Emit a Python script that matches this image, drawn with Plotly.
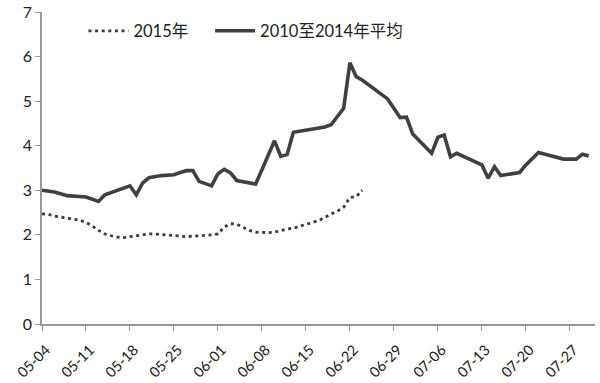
import plotly.graph_objects as go
from datetime import date, timedelta

start = date(2015, 5, 4)

# 2015 series: day offsets from 05-04 and values
days_2015 = list(range(0, 52))
vals_2015 = [2.47, 2.46, 2.42, 2.40, 2.38, 2.36, 2.33, 2.28, 2.20, 2.10,
             2.02, 1.98, 1.95, 1.94, 1.96, 1.98, 2.00, 2.02, 2.02, 2.01,
             2.00, 1.99, 1.97, 1.96, 1.97, 1.98, 1.98, 2.00, 2.02, 2.18,
             2.25, 2.24, 2.17, 2.10, 2.06, 2.05, 2.05, 2.06, 2.10, 2.13,
             2.15, 2.19, 2.24, 2.28, 2.32, 2.39, 2.47, 2.53, 2.62, 2.84,
             2.86, 3.00]

# 2010-2014 average
days_avg = [0, 2, 4, 7, 9, 10, 14, 15, 16, 17, 19, 21, 22, 23, 24, 25, 27, 28, 29, 30,
            31, 34, 35, 37, 38, 39, 40, 45, 46, 48, 49, 50, 51, 55, 57, 58, 59, 62,
            63, 64, 65, 66, 70, 71, 72, 73, 76, 77, 79, 83, 85, 86, 87]
vals_avg = [3.00, 2.96, 2.88, 2.85, 2.75, 2.90, 3.10, 2.90, 3.16, 3.28, 3.33, 3.35,
            3.40, 3.44, 3.44, 3.20, 3.10, 3.37, 3.47, 3.39, 3.22, 3.14, 3.46, 4.11,
            3.76, 3.80, 4.30, 4.42, 4.47, 4.84, 5.86, 5.55, 5.47, 5.05, 4.63, 4.64,
            4.26, 3.83, 4.19, 4.24, 3.75, 3.83, 3.57, 3.27, 3.53, 3.33, 3.40, 3.57,
            3.85, 3.70, 3.70, 3.81, 3.77]

names = ["2015年", "2010至2014年平均"]

def to_dates(ds):
    return [(start + timedelta(days=d)).isoformat() for d in ds]

fig = go.Figure()
fig.add_trace(go.Scatter(x=to_dates(days_2015), y=vals_2015, mode="lines", name=names[0],
                         line=dict(color="#3a3a3a", width=2.8, dash="3px,3.6px"),
                         legend="legend"))
fig.add_trace(go.Scatter(x=to_dates(days_avg), y=vals_avg, mode="lines", name=names[1],
                         line=dict(color="#404040", width=3.6), legend="legend2"))

leg_common = dict(orientation="h", yanchor="top", xanchor="left", y=0.995,
                  bgcolor="rgba(0,0,0,0)", font=dict(size=16.5), itemwidth=40)

fig.update_layout(
    width=600, height=383,
    margin=dict(l=42, r=5, t=12, b=59, autoexpand=False),
    plot_bgcolor="white", paper_bgcolor="white",
    font=dict(family="Lato, 'Noto Sans CJK SC', sans-serif", size=15, color="#222"),
    showlegend=True,
    legend=dict(x=0.075, **leg_common),
    legend2=dict(x=0.304, **leg_common),
    xaxis=dict(type="date", range=["2015-05-04", "2015-07-31"], automargin=False,
               tick0="2015-05-04", dtick=7 * 86400000, tickformat="%m-%d",
               tickangle=-45, ticks="outside", ticklen=5, tickcolor="#999",
               showline=True, linecolor="#999", linewidth=1.5, showgrid=False,
               zeroline=False, tickfont=dict(size=14.5),
               ticklabelstandoff=5, ticklabelshift=4),
    yaxis=dict(range=[0, 7], dtick=1, ticks="outside", ticklen=5, tickcolor="#999",
               showline=True, linecolor="#999", linewidth=1.5, showgrid=False,
               zeroline=False, tickfont=dict(size=16), automargin=False),
)

fig.write_html("out.html", config={"displayModeBar": False},
               post_script="document.body.style.margin='0';document.body.style.overflow='hidden';")
